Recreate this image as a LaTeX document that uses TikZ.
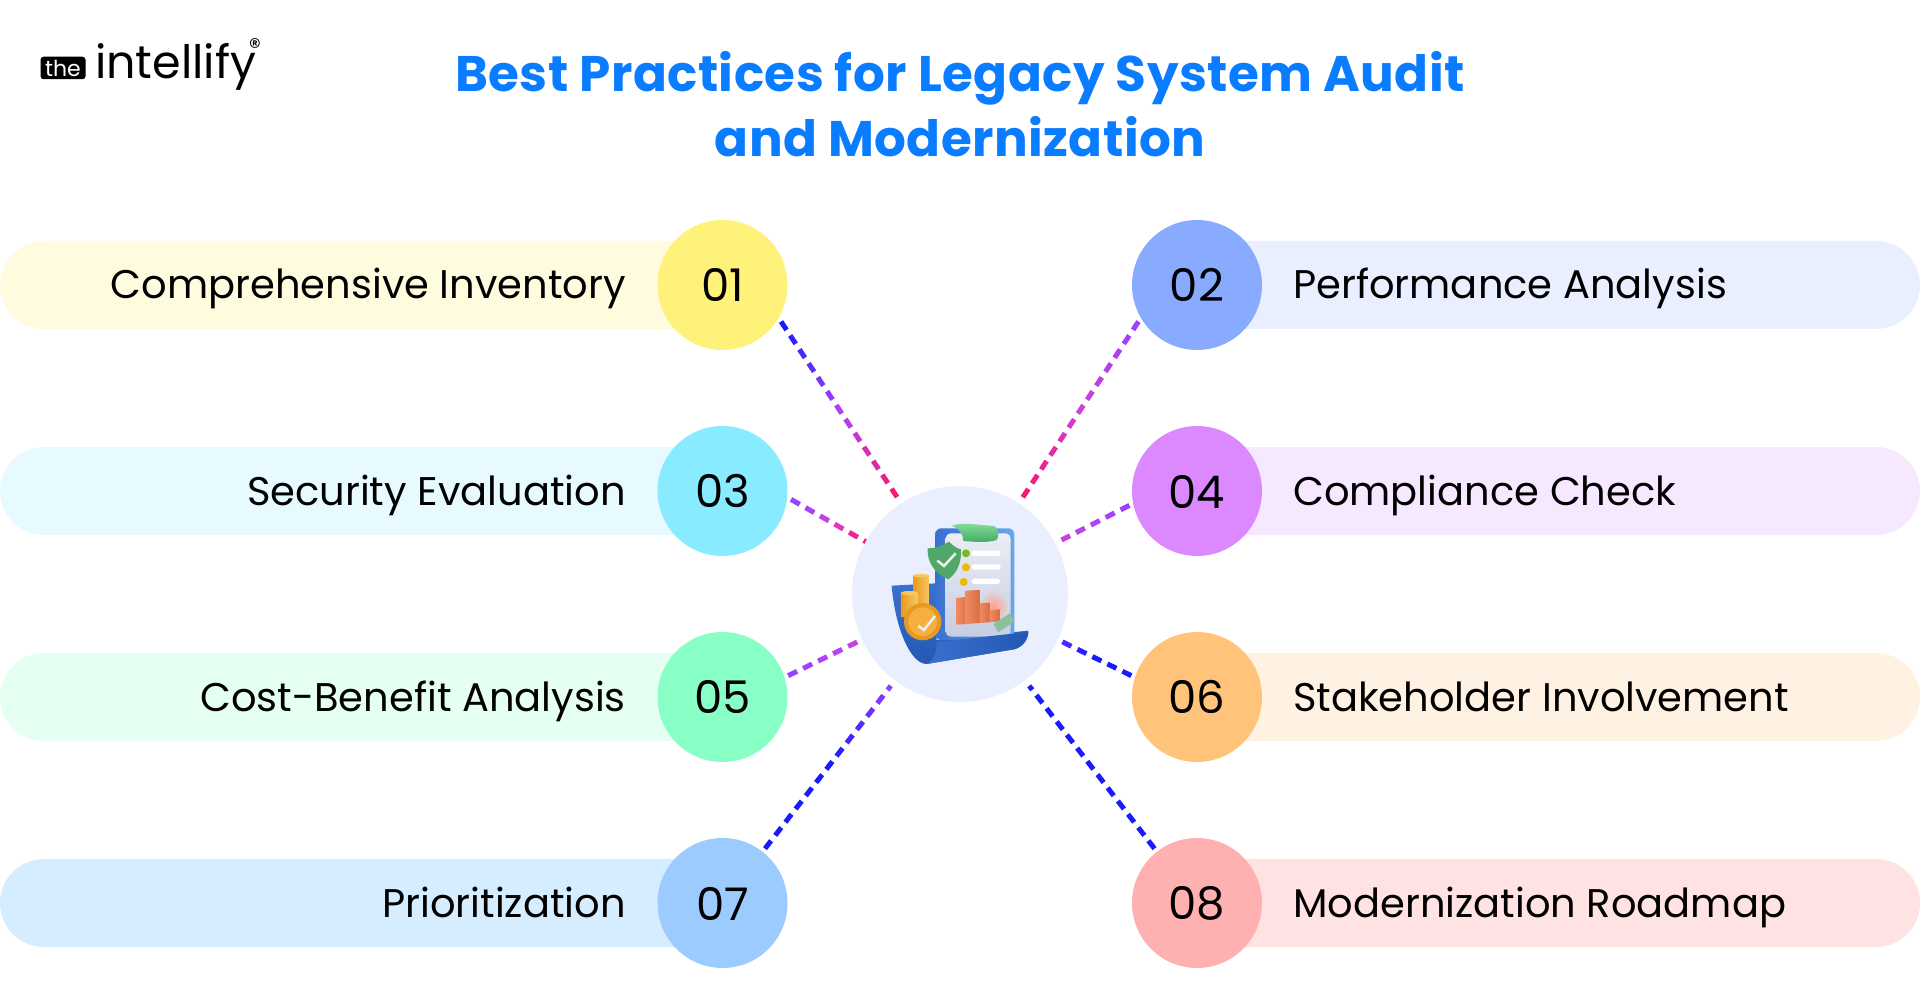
\documentclass[tikz,border=0pt]{standalone}
\usepackage{fontspec}
\usepackage{xcolor}
\setmainfont{Poppins}
\newfontfamily\logofont{Poppins}
\usetikzlibrary{calc,shapes.misc}

\definecolor{titleblue}{HTML}{0A7CFF}
\definecolor{hubfill}{HTML}{E9EFFE}
\definecolor{linkblue}{HTML}{1A1AFF}
\definecolor{linkpink}{HTML}{FF1464}
\definecolor{linkmid}{HTML}{B044F4}
\definecolor{linkvio}{HTML}{9A40FF}
\definecolor{linkmag}{HTML}{D040D8}
\definecolor{linkind}{HTML}{6A30FF}
\definecolor{sheetblue}{HTML}{3A70D0}
\definecolor{sheetdark}{HTML}{2458B4}
\definecolor{boardlight}{HTML}{66A8EC}
\definecolor{pagetop}{HTML}{ECEDF4}
\definecolor{pagelow}{HTML}{C6CEE4}
\definecolor{pagemid}{HTML}{D8DBE8}
\definecolor{glowred}{HTML}{FFA088}
\definecolor{clipgreen}{HTML}{8CE0A0}
\definecolor{clipdark}{HTML}{3CA860}
\definecolor{shieldgreen}{HTML}{4FA868}
\definecolor{notegreen}{HTML}{8CBF9C}
\definecolor{dotgreen}{HTML}{7AB828}
\definecolor{dotyellow}{HTML}{F0B800}
\definecolor{barlight}{HTML}{F08A60}
\definecolor{bardark}{HTML}{D86C44}
\definecolor{coinlight}{HTML}{F8C860}
\definecolor{coindark}{HTML}{E89A20}
\definecolor{coinface}{HTML}{F5B040}
\definecolor{checkwhite}{HTML}{F0F0F0}
\definecolor{pill01}{HTML}{FFFBDF}
\definecolor{pill02}{HTML}{E9EFFE}
\definecolor{pill03}{HTML}{E6FAFF}
\definecolor{pill04}{HTML}{F6E8FF}
\definecolor{pill05}{HTML}{E6FFF3}
\definecolor{pill06}{HTML}{FFF2E2}
\definecolor{pill07}{HTML}{D6ECFF}
\definecolor{pill08}{HTML}{FFE3E3}
\definecolor{disc01}{HTML}{FFF27A}
\definecolor{disc02}{HTML}{88AAFF}
\definecolor{disc03}{HTML}{88EBFF}
\definecolor{disc04}{HTML}{DC88FF}
\definecolor{disc05}{HTML}{88FFC4}
\definecolor{disc06}{HTML}{FFC47A}
\definecolor{disc07}{HTML}{9BCBFF}
\definecolor{disc08}{HTML}{FFB0B0}

\tikzset{
    pillbox/.style={rounded rectangle, minimum height=88pt, inner sep=0pt, outer sep=0pt},
    numdisc/.style={circle, minimum size=130pt, inner sep=0pt, outer sep=4pt, text=black, text height=34pt, font=\fontsize{45}{45}\selectfont},
    rowlabel/.style={text=black, inner sep=0pt, font=\fontsize{40}{48}\selectfont},
    linkdash/.style={line width=5pt}
}

% one dashed connector, its colour running over three stops
\newcommand{\dashlink}[5]{%
    \path let \p1=($(#1)-(#2)$), \n1={veclen(\x1,\y1)} in \pgfextra{\xdef\linklen{\n1}};
    \pgfmathtruncatemacro\dashcount{\linklen/16.7}
    \foreach \k in {0,...,\dashcount} {
        \pgfmathsetmacro\tA{\k*16.7/\linklen}
        \pgfmathsetmacro\tB{min(1,(\k*16.7+10)/\linklen)}
        \pgfmathsetmacro\pct{\tA<0.5 ? 200*\tA : 200*\tA-100}
        \ifdim\tA pt<0.5pt \colorlet{dashcol}{#4!\pct!#3}\else \colorlet{dashcol}{#5!\pct!#4}\fi
        \draw[linkdash, dashcol] ($(#1)!\tA!(#2)$) -- ($(#1)!\tB!(#2)$);
    }
}

\begin{document}
\begin{tikzpicture}[x=1pt,y=-1pt]
    \useasboundingbox (0,0) rectangle (1920,1000);

    % Logo
    \node[fill=black, rounded corners=3pt, text=white, minimum width=45pt, minimum height=22.5pt, inner sep=0pt, font=\logofont\fontsize{22}{22}\selectfont] (badge) at (63,68) {the};
    \node[anchor=base west, inner sep=0pt, text=black, font=\logofont\fontsize{46}{46}\selectfont] (brand) at (95,79) {intellify};
    \node[inner sep=0pt, text=black, font=\logofont\fontsize{24}{24}\selectfont] (regmark) at (255,47) {®};

    % Title
    \node[align=center, text=titleblue, font=\bfseries\fontsize{50}{65}\selectfont\addfontfeature{LetterSpace=0.9}] (title) at (960,104) {Best Practices for Legacy System Audit\\and Modernization};

    % Left rows
    \node[pillbox, fill=pill01, minimum width=722pt, anchor=west] (bar01) at (0,285) {};
    \node[pillbox, fill=pill03, minimum width=722pt, anchor=west] (bar03) at (0,491) {};
    \node[pillbox, fill=pill05, minimum width=722pt, anchor=west] (bar05) at (0,697) {};
    \node[pillbox, fill=pill07, minimum width=722pt, anchor=west] (bar07) at (0,903) {};
    % Right rows
    \node[pillbox, fill=pill02, minimum width=723pt, anchor=east] (bar02) at (1920,285) {};
    \node[pillbox, fill=pill04, minimum width=723pt, anchor=east] (bar04) at (1920,491) {};
    \node[pillbox, fill=pill06, minimum width=723pt, anchor=east] (bar06) at (1920,697) {};
    \node[pillbox, fill=pill08, minimum width=723pt, anchor=east] (bar08) at (1920,903) {};

    % Discs
    \node[numdisc, fill=disc01] (n01) at (722.5,285) {01};
    \node[numdisc, fill=disc02] (n02) at (1197,285) {02};
    \node[numdisc, fill=disc03] (n03) at (722.5,491) {03};
    \node[numdisc, fill=disc04] (n04) at (1197,491) {04};
    \node[numdisc, fill=disc05] (n05) at (722.5,697) {05};
    \node[numdisc, fill=disc06] (n06) at (1197,697) {06};
    \node[numdisc, fill=disc07] (n07) at (722.5,903) {07};
    \node[numdisc, fill=disc08] (n08) at (1197,903) {08};

    % Labels
    \node[rowlabel, anchor=base east] (lab01) at (626,299) {Comprehensive Inventory};
    \node[rowlabel, anchor=base east] (lab03) at (626,505) {Security Evaluation};
    \node[rowlabel, anchor=base east] (lab05) at (626,711) {Cost-Benefit Analysis};
    \node[rowlabel, anchor=base east] (lab07) at (626,917) {Prioritization};
    \node[rowlabel, anchor=base west] (lab02) at (1293,299) {Performance Analysis};
    \node[rowlabel, anchor=base west] (lab04) at (1293,505) {Compliance Check};
    \node[rowlabel, anchor=base west] (lab06) at (1293,711) {Stakeholder Involvement};
    \node[rowlabel, anchor=base west] (lab08) at (1293,917) {Modernization Roadmap};

    % Hub
    \node[circle, fill=hubfill, minimum size=216pt, inner sep=0pt, outer sep=0pt] (hub) at (960,594) {};
    \node[circle, minimum size=230pt, inner sep=0pt, outer sep=0pt] (hubring) at (960,594) {};

    % Connectors
    \dashlink{n01.-32}{hubring.123}{linkblue}{linkmid}{linkpink}
    \dashlink{n02.-148}{hubring.57}{linkvio}{linkmag}{linkpink}
    \dashlink{n03.-7}{hub.151}{linkvio}{linkmag}{linkpink}
    \dashlink{n04.-168}{hubring.28}{linkvio}{linkmid}{linkmag}
    \dashlink{n05.18}{hub.-155}{linkvio}{linkmid}{linkmag}
    \dashlink{n06.162}{hub.-25}{linkblue}{linkblue}{linkind}
    \dashlink{n07.52}{hubring.-127}{linkblue}{linkblue}{linkvio}
    \dashlink{n08.128}{hubring.-53}{linkblue}{linkblue}{linkblue}

    % Audit icon
    \begin{scope}[shift={(780,440)},x=0.3333pt,y=-0.3333pt]
        % back sheet
        \shade[top color=sheetblue, bottom color=sheetdark] (335,437) -- (470,430) -- (470,600) -- (745,572) .. controls (745,600) and (725,628) .. (690,630) -- (440,672) .. controls (390,672) and (345,560) .. (335,437) -- cycle;
        % board and page
        \shade[left color=sheetblue, right color=boardlight, rounded corners=6pt] (466,265) rectangle (703,600);
        \shade[top color=pagetop, bottom color=pagelow, rounded corners=5pt] (497,280) rectangle (692,590);
        \shade[inner color=glowred, outer color=pagemid] (640,500) circle (48);
        % front roll
        \shade[left color=sheetblue, right color=sheetdark] (470,606) -- (745,576) .. controls (745,600) and (725,628) .. (690,630) -- (440,672) .. controls (465,660) and (470,630) .. (470,606) -- cycle;
        % green clip
        \shade[top color=clipgreen, bottom color=clipdark] (515,258) .. controls (540,245) and (600,255) .. (640,258) .. controls (660,262) and (658,290) .. (650,300) .. controls (620,310) and (580,305) .. (550,303) .. controls (550,285) and (540,265) .. (515,258) -- cycle;
        % checklist
        \fill[dotgreen] (558,340) circle (12);
        \fill[dotyellow] (558,382) circle (12);
        \fill[dotyellow] (551,426) circle (12);
        \fill[white, rounded corners=2.5pt] (575,332) rectangle (662,348);
        \fill[white, rounded corners=2.5pt] (575,373) rectangle (662,389);
        \fill[white, rounded corners=2.5pt] (575,416) rectangle (660,432);
        % bars
        \shade[left color=barlight, right color=bardark] (530,474) -- (567,470) -- (567,552) -- (530,554) -- cycle;
        \shade[left color=barlight, right color=bardark] (557,452) -- (600,450) -- (600,549) -- (557,552) -- cycle;
        \shade[left color=barlight, right color=bardark] (600,490) -- (629,488) -- (629,547) -- (600,549) -- cycle;
        \shade[left color=barlight, right color=bardark] (629,510) -- (660,508) -- (660,544) -- (629,547) -- cycle;
        \fill[notegreen] (640,552) -- (690,520) -- (703,545) -- (655,577) -- cycle;
        % shield
        \fill[shieldgreen] (443,325) .. controls (470,325) and (490,315) .. (507,305) .. controls (520,318) and (530,325) .. (543,328) .. controls (545,370) and (530,400) .. (505,418) .. controls (470,405) and (440,370) .. (443,325) -- cycle;
        \draw[checkwhite, line width=2.5pt] (472,362) -- (492,378) -- (527,340);
        % coins
        \shade[left color=coindark, right color=coinlight] (400,407) rectangle (447,495);
        \fill[coinlight] (423,407) ellipse (23 and 5);
        \shade[left color=coindark, right color=coinlight] (363,460) rectangle (412,530);
        \fill[coinlight] (388,459) ellipse (25 and 6);
        \fill[coindark] (428,545) circle (56);
        \fill[coinface] (428,545) circle (43);
        \draw[checkwhite, line width=2.5pt] (415,558) -- (432,570) -- (465,528);
    \end{scope}
\end{tikzpicture}
\end{document}
